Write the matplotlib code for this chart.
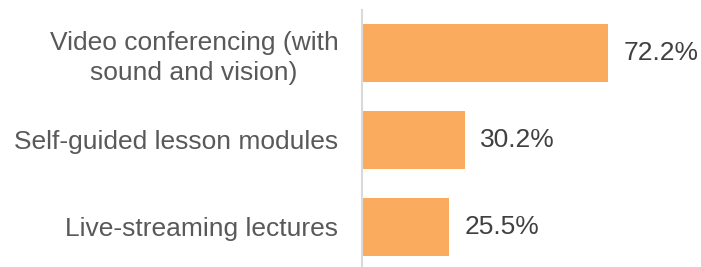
import matplotlib.pyplot as plt

categories = ['Video conferencing (with\nsound and vision)',
              'Self-guided lesson modules',
              'Live-streaming lectures']
values = [72.2, 30.2, 25.5]
value_labels = ['72.2%', '30.2%', '25.5%']

plt.rcParams['font.family'] = ['Liberation Sans', 'DejaVu Sans']

fig = plt.figure(figsize=(7.01, 2.67), dpi=100)
ax = fig.add_axes([362 / 701, 0, 339 / 701, 257 / 267])

ypos = list(range(len(categories)))
bars = ax.barh(ypos, values, height=0.67, color='#FBAB5E')

ax.set_xlim(0, 339 / 3.407)
ax.set_ylim(2.46, -0.494)

for bar, lab in zip(bars, value_labels):
    ax.annotate(lab, (bar.get_width(), bar.get_y() + bar.get_height() / 2),
                xytext=(11, 0), textcoords='offset points',
                ha='left', va='center', fontsize=19, color='#404040')

ax.set_yticks(ypos)
ax.set_yticklabels(categories, fontsize=19, color='#595959',
                   multialignment='center', linespacing=1.3)
ax.tick_params(axis='y', length=0, pad=17)
ax.set_xticks([])

for s in ['top', 'right', 'bottom']:
    ax.spines[s].set_visible(False)
ax.spines['left'].set_color('#D9D9D9')
ax.spines['left'].set_linewidth(1.5)

fig.savefig('out.png', dpi=100)
